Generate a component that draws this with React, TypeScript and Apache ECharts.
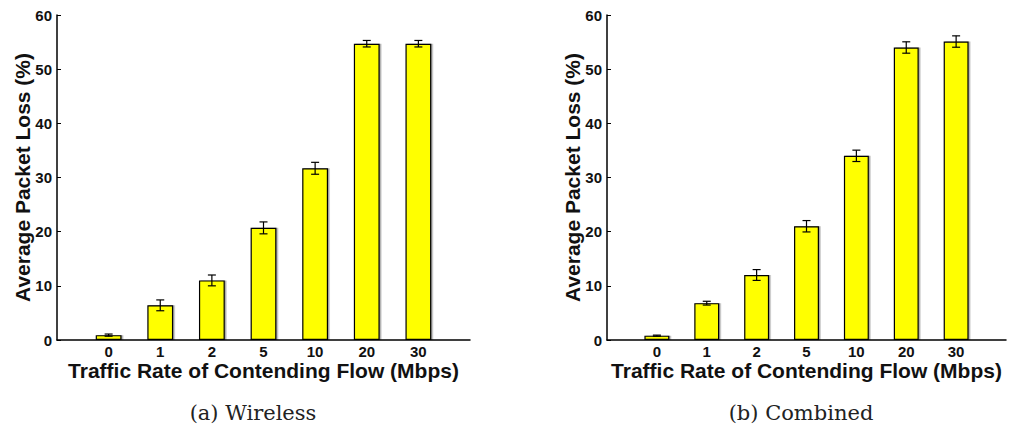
import React, { useEffect, useRef } from "react";
import * as echarts from "echarts";

const categories = ["0", "1", "2", "5", "10", "20", "30"];
const wirelessLoss = [0.9, 6.4, 11.0, 20.7, 31.7, 54.7, 54.7];
const wirelessErr = [0.2, 1.0, 1.0, 1.1, 1.1, 0.6, 0.6];
const combinedLoss = [0.8, 6.8, 12.0, 21.0, 34.0, 54.0, 55.1];
const combinedErr = [0.1, 0.35, 1.0, 1.05, 1.05, 1.05, 1.05];
const yTicks = { min: 0, max: 60, interval: 10 };
const panelTitles = ["(a) Wireless", "(b) Combined"];
const yAxisTitle = "Average Packet Loss (%)";
const xAxisTitle = "Traffic Rate of Contending Flow (Mbps)";

const FONT = "'Liberation Sans', Arial, sans-serif";
const SERIF = "'DejaVu Serif', serif";

function barData(values: number[]) {
  return values.map((v, i) => [i + 1, v]);
}
function errData(values: number[], errs: number[]) {
  return values.map((v, i) => [i + 1, v - errs[i], v + errs[i]]);
}

const renderErr = (params: any, api: any) => {
  const x = api.value(0);
  const lo = api.coord([x, api.value(1)]);
  const hi = api.coord([x, api.value(2)]);
  const half = 4;
  const style = { stroke: "#000", lineWidth: 1.2 };
  return {
    type: "group",
    children: [
      { type: "line", shape: { x1: lo[0], y1: lo[1], x2: hi[0], y2: hi[1] }, style },
      { type: "line", shape: { x1: lo[0] - half, y1: lo[1], x2: lo[0] + half, y2: lo[1] }, style },
      { type: "line", shape: { x1: hi[0] - half, y1: hi[1], x2: hi[0] + half, y2: hi[1] }, style },
    ],
  };
};

export default function App() {
  const ref = useRef<HTMLDivElement>(null);
  useEffect(() => {
    if (!ref.current) return;
    const chart = echarts.init(ref.current, null, { renderer: "svg" });
    const grids = [
      { left: 57, top: 15, width: 413, height: 325 },
      { left: 607, top: 15, width: 413, height: 325 },
    ];
    const xAxes = grids.map((_, gi) => ({
      type: "value",
      gridIndex: gi,
      min: 0,
      max: 8,
      interval: 1,
      axisLine: { show: true, onZero: false, lineStyle: { color: "#000", width: 1.5 } },
      axisTick: { show: false },
      splitLine: { show: false },
      axisLabel: {
        margin: 4,
        color: "#111",
        fontFamily: FONT,
        fontWeight: "bold",
        fontSize: 15,
        lineHeight: 15,
        formatter: (v: number) => categories[v - 1] ?? "",
      },
      name: xAxisTitle,
      nameLocation: "middle",
      nameGap: 20,
      nameMoveOverlap: false,
      nameTextStyle: { color: "#111", fontFamily: FONT, fontWeight: "bold", fontSize: 21, lineHeight: 21 },
    }));
    const yAxes = grids.map((_, gi) => ({
      type: "value",
      gridIndex: gi,
      min: yTicks.min,
      max: yTicks.max,
      interval: yTicks.interval,
      axisLine: { show: true, lineStyle: { color: "#000", width: 1.5 } },
      axisTick: { show: true, inside: true, length: 4, lineStyle: { color: "#000", width: 1 } },
      splitLine: { show: false },
      axisLabel: {
        margin: 5,
        color: "#111",
        fontFamily: FONT,
        fontWeight: "bold",
        fontSize: 15,
      },
      name: yAxisTitle,
      nameLocation: "middle",
      nameGap: 24,
      nameMoveOverlap: false,
      nameTextStyle: { color: "#111", fontFamily: FONT, fontWeight: "bold", fontSize: 21 },
    }));
    const sets = [
      [wirelessLoss, wirelessErr],
      [combinedLoss, combinedErr],
    ];
    const series: any[] = [];
    sets.forEach(([vals, errs], gi) => {
      series.push({
        type: "bar",
        xAxisIndex: gi,
        yAxisIndex: gi,
        data: barData(vals),
        barWidth: "50%",
        itemStyle: {
          color: "#ffff00",
          borderColor: "#000",
          borderWidth: 1.2,
          shadowColor: "rgba(0,0,0,0.35)",
          shadowOffsetX: 1.5,
          shadowOffsetY: 0,
          shadowBlur: 0,
        },
      });
      series.push({
        type: "custom",
        xAxisIndex: gi,
        yAxisIndex: gi,
        data: errData(vals, errs),
        encode: { x: 0, y: [1, 2] },
        renderItem: renderErr,
        z: 5,
      });
    });
    chart.setOption({
      animation: false,
      backgroundColor: "#fff",
      grid: grids,
      xAxis: xAxes,
      yAxis: yAxes,
      series,
      graphic: [
        {
          type: "text",
          x: 253,
          y: 413,
          style: {
            text: panelTitles[0],
            fontFamily: SERIF,
            fontSize: 21,
            fill: "#222",
            align: "center",
            verticalAlign: "middle",
          },
        },
        {
          type: "text",
          x: 801,
          y: 413,
          style: {
            text: panelTitles[1],
            fontFamily: SERIF,
            fontSize: 21,
            fill: "#222",
            align: "center",
            verticalAlign: "middle",
          },
        },
      ],
    });
    return () => chart.dispose();
  }, []);
  return (
    <div
      ref={ref}
      style={{ position: "fixed", left: 0, top: 0, width: 1009, height: 430, overflow: "hidden" }}
    />
  );
}
